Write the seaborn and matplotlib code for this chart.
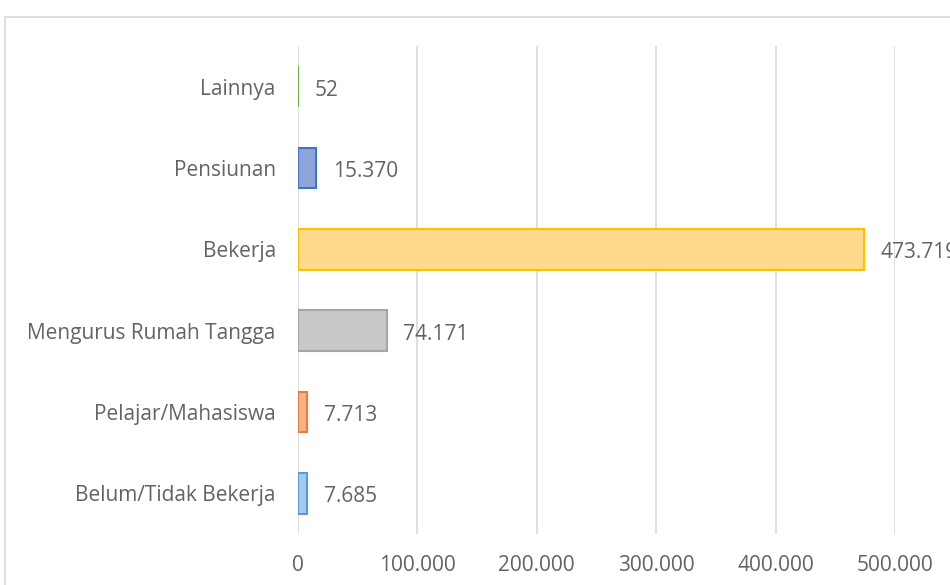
#!/usr/bin/env python3
"""
Jumlah penduduk menurut pekerjaan - horizontal bar chart
"""

import pandas as pd
import matplotlib.pyplot as plt
import seaborn as sns
from matplotlib.patches import Rectangle
from matplotlib.ticker import FuncFormatter

categories = ['Lainnya', 'Pensiunan', 'Bekerja', 'Mengurus Rumah Tangga',
              'Pelajar/Mahasiswa', 'Belum/Tidak Bekerja']
values = [52, 15370, 473719, 74171, 7713, 7685]
fill_colors = ['#A9D18E', '#8EA5DC', '#FFD98C', '#C9C9C9', '#F6B28E', '#A8C8EB']
edge_colors = ['#70AD47', '#4472C4', '#FFC000', '#A5A5A5', '#ED7D31', '#5B9BD5']
x_ticks = [0, 100000, 200000, 300000, 400000, 500000]

sns.set_style("white")
plt.rcParams['font.family'] = ['Open Sans', 'DejaVu Sans']

TEXT = '#636363'


def dotted(v):
    return f'{int(v):,}'.replace(',', '.')


def main():
    df = pd.DataFrame({'kategori': categories, 'jumlah': values})

    fig = plt.figure(figsize=(9.5, 5.85), dpi=100)
    ax = fig.add_axes([298 / 950, 1 - 534 / 585, (895 - 298) / 950, (534 - 46) / 585])

    sns.barplot(data=df, x='jumlah', y='kategori', hue='kategori',
                palette=fill_colors, saturation=1, legend=False, width=0.5,
                ax=ax, orient='h', zorder=3)

    for patch, ec in zip(ax.patches, edge_colors):
        patch.set_edgecolor(ec)
        patch.set_linewidth(1.5)

    # data labels (the last one runs off the right edge, as in the source)
    for i, v in enumerate(values):
        ax.annotate(dotted(v), xy=(v, i), xytext=(12, -2.5), textcoords='offset points',
                    va='center', ha='left', fontsize=15, color=TEXT,
                    annotation_clip=False, clip_on=False)

    ax.set_xlim(0, 500000)
    ax.set_xticks(x_ticks)
    ax.xaxis.set_major_formatter(FuncFormatter(lambda v, p: dotted(v)))
    ax.grid(True, axis='x', color='#D9D9D9', linewidth=1.2, zorder=0)
    for s in ax.spines.values():
        s.set_visible(False)
    ax.tick_params(axis='both', length=0, labelsize=15, colors=TEXT)
    ax.tick_params(axis='x', pad=15)
    ax.tick_params(axis='y', pad=16)
    ax.set_xlabel('')
    ax.set_ylabel('')

    # chart area border
    fig.patches.append(Rectangle((5 / 950, -0.1), 1.2, 1 - 17 / 585 + 0.1,
                                 transform=fig.transFigure, fill=False,
                                 edgecolor='#D9D9D9', linewidth=1.2))

    fig.savefig('out.png', dpi=100)
    plt.close(fig)


if __name__ == "__main__":
    main()
